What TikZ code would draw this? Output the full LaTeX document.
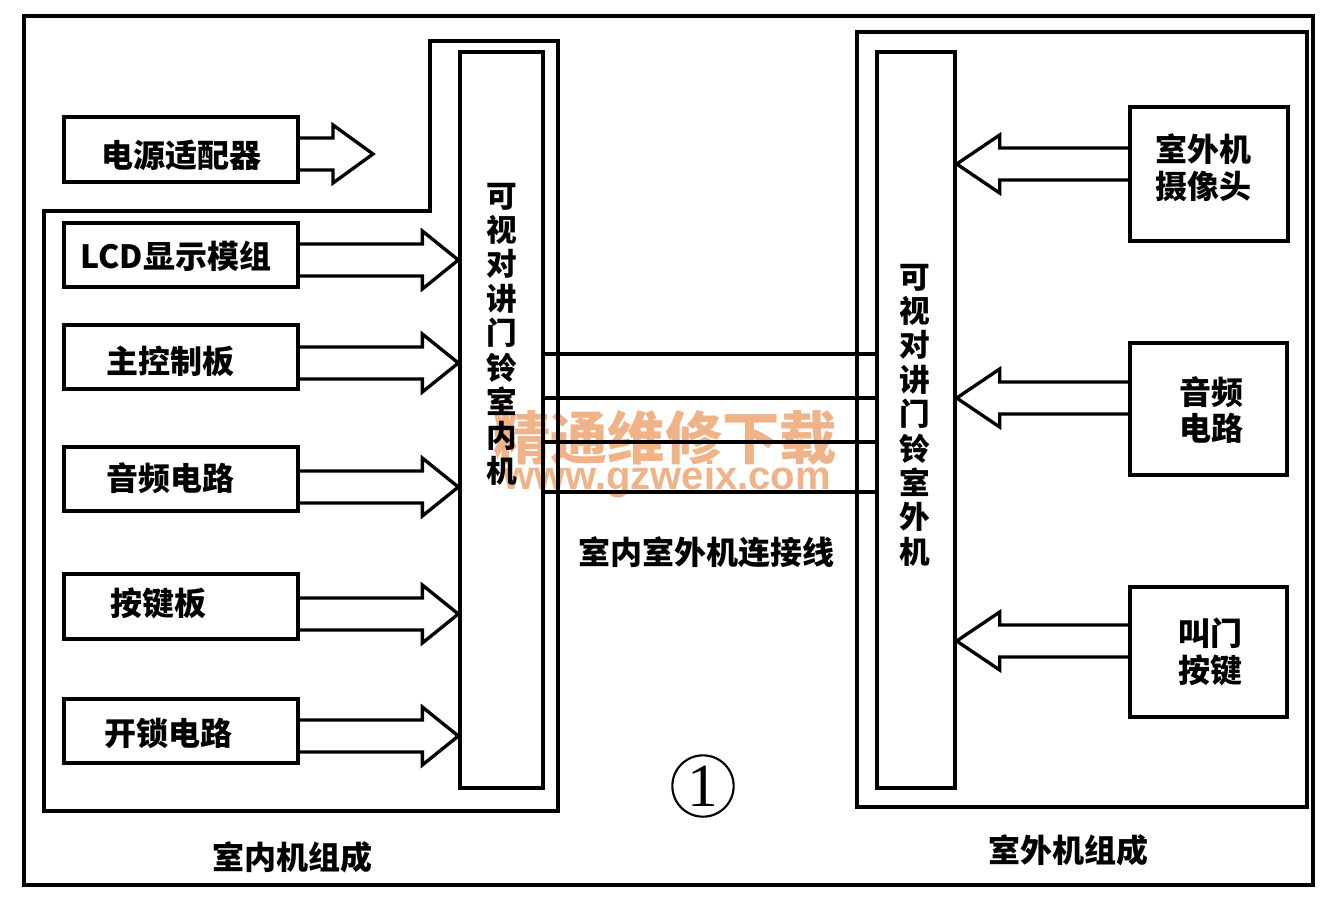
\documentclass[tikz,border=0pt]{standalone}
\usepackage{fontspec}
\setmainfont{Noto Sans CJK SC}
\newfontfamily\wmfont{Liberation Sans}
\newfontfamily\numfont{Liberation Serif}
\usetikzlibrary{calc,fit}
\definecolor{wm}{RGB}{240,178,135}
\tikzset{
  frame/.style={draw=black, line width=2.3pt},
  box/.style={draw=black, line width=2.5pt, inner sep=0pt},
  lbl/.style={font=\fontsize{24}{28}\selectfont\bfseries, inner sep=0pt},
  rlbl/.style={font=\fontsize{24}{27.5}\selectfont\bfseries, align=center, inner sep=0pt},
  vlbl/.style={font=\fontsize{23}{25.8}\selectfont\bfseries, align=center, inner sep=0pt},
  hollow/.style={draw=black, line width=2.5pt, line join=miter},
  wire/.style={draw=black, line width=2.3pt},
}
\newcommand\rarr[3]{\draw[hollow] ($(#1.east|-0,#3)+(0,-16)$) -- ($(#2.west|-0,#3)+(-36,-16)$) -- ++(0,-13) -- (#2.west|-0,#3) -- ($(#2.west|-0,#3)+(-36,29)$) -- ++(0,-13) -- ($(#1.east|-0,#3)+(0,16)$);}
\newcommand\larr[3]{\draw[hollow] ($(#1.west|-0,#3)+(0,-16)$) -- ($(#2.east|-0,#3)+(43,-16)$) -- ++(0,-13) -- (#2.east|-0,#3) -- ($(#2.east|-0,#3)+(43,29)$) -- ++(0,-13) -- ($(#1.west|-0,#3)+(0,16)$);}
\begin{document}
\begin{tikzpicture}[x=0.75pt,y=-0.75pt]
\useasboundingbox (0,0) rectangle (1333,901);
% watermark
\node[text=wm, font=\fontsize{43}{43}\selectfont\bfseries] (wm1) at (665,438) {精通维修下载};
\node[text=wm, font=\wmfont\fontsize{30}{30}\selectfont\bfseries] (wm2) at (667,479) {www.gzweix.com};
% frames
\draw[frame] (24,16) rectangle (1313,885);
\draw[frame] (44,211) -- (430,211) -- (430,41) -- (558,41) -- (558,811) -- (44,811) -- cycle;
\draw[frame] (857,32) rectangle (1307,807);
% units
\node[box, fit={(460,52) (543,788)}] (inu) {};
\node[box, fit={(877,52) (955,788)}] (outu) {};
\node[vlbl] (inut) at (502,334) {可\\视\\对\\讲\\门\\铃\\室\\内\\机};
\node[vlbl] (outut) at (915,415) {可\\视\\对\\讲\\门\\铃\\室\\外\\机};
% left boxes
\node[box, fit={(64,117) (298,182)}] (pwr) {};
\node[box, fit={(64,223) (298,287)}] (lcd) {};
\node[box, fit={(64,325) (298,389)}] (mcb) {};
\node[box, fit={(64,447) (298,511)}] (aud) {};
\node[box, fit={(64,574) (298,639)}] (key) {};
\node[box, fit={(64,699) (298,763)}] (lock) {};
\node[lbl] (pwrt) at (181,155) {电源适配器};
\node[lbl] (lcdt) at (176,256) {LCD显示模组};
\node[lbl] (mcbt) at (170,361) {主控制板};
\node[lbl] (audt) at (170,478) {音频电路};
\node[lbl] (keyt) at (158,603) {按键板};
\node[lbl] (lockt) at (168,733) {开锁电路};
% right boxes
\node[box, fit={(1130,107) (1288,241)}] (cam) {};
\node[box, fit={(1130,343) (1287,475)}] (raud) {};
\node[box, fit={(1130,587) (1287,717)}] (call) {};
\node[rlbl] (camt) at (1203,168) {室外机\\摄像头};
\node[rlbl] (raudt) at (1211,410) {音频\\电路};
\node[rlbl] (callt) at (1210,652) {叫门\\按键};
% arrows
\coordinate (ptip) at (373,154);
\draw[hollow] ($(pwr.east|-0,154)+(0,-16)$) -- (333,138) -- (333,125) -- (ptip) -- (333,183) -- (333,170) -- ($(pwr.east|-0,154)+(0,16)$);
\rarr{lcd}{inu}{260}
\rarr{mcb}{inu}{363}
\rarr{aud}{inu}{487}
\rarr{key}{inu}{614}
\rarr{lock}{inu}{736}
\larr{cam}{outu}{164}
\larr{raud}{outu}{398}
\larr{call}{outu}{641}
% wires
\foreach \yy in {354,398,442,492} \draw[wire] (inu.east|-0,\yy) -- (outu.west|-0,\yy);
% labels
\node[lbl] (conn) at (706,552) {室内室外机连接线};
\node[draw=black, circle, line width=1.6pt, minimum size=46pt, inner sep=0pt, font=\numfont\fontsize{46}{46}\selectfont] (one) at (703,786) {1};
\node[lbl] (inlab) at (292,857) {室内机组成};
\node[lbl] (outlab) at (1068,850) {室外机组成};
\end{tikzpicture}
\end{document}
